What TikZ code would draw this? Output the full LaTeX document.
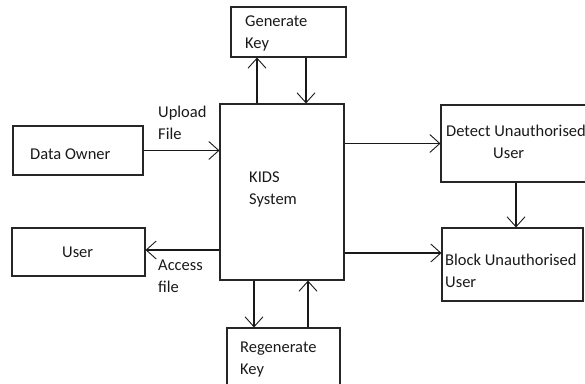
\documentclass[tikz,border=0pt]{standalone}
\usepackage{fontspec}
\setmainfont{Carlito}
\usetikzlibrary{arrows.meta}
\begin{document}
\begin{tikzpicture}[x=1pt,y=-1pt,
  box/.style={draw=black!85,line width=1.1pt,rectangle,inner sep=0pt},
  lbl/.style={anchor=base west,inner sep=0pt,font=\fontsize{16.5}{21}\selectfont,text=black!90},
  arr/.style={draw=black!90,line width=1.1pt,-{Straight Barb[length=10pt,width=18pt,line width=0.9pt]}}]
\useasboundingbox (0,0) rectangle (585,383);
\clip (0,0) rectangle (585,383);
% boxes
\node[box,minimum width=115pt,minimum height=50pt] (gen) at (288.5,32) {};
\node[box,minimum width=124pt,minimum height=176pt] (kids) at (282,192) {};
\node[box,minimum width=130pt,minimum height=49pt] (owner) at (78,150.5) {};
\node[box,minimum width=133pt,minimum height=48pt] (user) at (78.5,252) {};
\node[box,minimum width=113pt,minimum height=72pt] (regen) at (283.5,364) {};
\node[box,minimum width=159pt,minimum height=77pt] (detect) at (520.5,143.5) {};
\node[box,minimum width=141pt,minimum height=73pt] (block) at (512.5,264.5) {};
% labels
\node[lbl] (tgen1) at (245,26) {Generate};
\node[lbl] (tgen2) at (245,48) {Key};
\node[lbl] (tkids1) at (249,182) {KIDS};
\node[lbl] (tkids2) at (249,204) {System};
\node[lbl] (towner) at (30,159) {Data Owner};
\node[lbl] (tuser) at (62,257) {User};
\node[lbl] (tup1) at (158,117) {Upload};
\node[lbl] (tup2) at (158,139) {File};
\node[lbl] (tac1) at (158,270) {Access};
\node[lbl] (tac2) at (158,292) {file};
\node[lbl] (tdet1) at (446,136) {Detect Unauthorised};
\node[lbl] (tdet2) at (493,158) {User};
\node[lbl] (tblk1) at (445,265) {Block Unauthorised};
\node[lbl] (tblk2) at (445,287) {User};
\node[lbl] (treg1) at (240,352) {Regenerate};
\node[lbl] (treg2) at (240,374) {Key};
% connectors
\coordinate (kg1) at ([xshift=-25pt]kids.north);
\coordinate (kg2) at ([xshift=24pt]kids.north);
\draw[arr] (kg1) -- (kg1 |- gen.south);
\draw[arr] (kg2 |- gen.south) -- (kg2);
\draw[arr] (owner.east) -- (owner.east -| kids.west);
\coordinate (ua) at ([yshift=2pt]user.east);
\draw[arr] (ua -| kids.west) -- (ua);
\draw[arr] (detect.west -| kids.east) -- (detect.west);
\coordinate (kb) at ([yshift=11.5pt]block.west);
\draw[arr] (kb -| kids.east) -- (kb);
\coordinate (db) at ([xshift=3.5pt]block.north);
\draw[arr] (db |- detect.south) -- (db);
\coordinate (rg1) at ([xshift=-29.5pt]regen.north);
\coordinate (rg2) at ([xshift=24.5pt]regen.north);
\draw[arr] (rg1 |- kids.south) -- (rg1);
\draw[arr] (rg2) -- (rg2 |- kids.south);
\end{tikzpicture}
\end{document}
